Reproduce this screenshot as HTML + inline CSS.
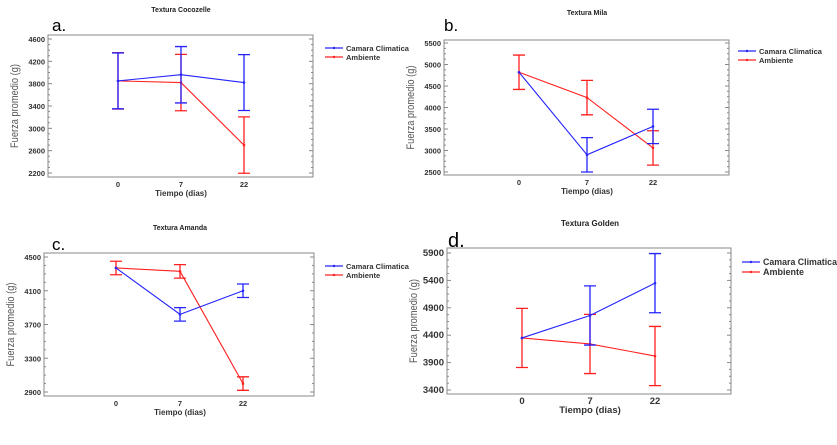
<!DOCTYPE html>
<html><head><meta charset="utf-8"><style>
html,body{margin:0;padding:0;background:#fff;width:837px;height:445px;overflow:hidden}
svg text{font-family:"Liberation Sans",sans-serif}
</style></head><body>
<svg id="chart" width="837" height="445" xmlns="http://www.w3.org/2000/svg"></svg>
<script>
const categories = ["0","7","22"];
const seriesNames = ["Camara Climatica","Ambiente"];
// Panel a - Cocozelle
const aBlue = [3850, 3960, 3820];
const aBlueErr = [500, 505, 500];
const aRed = [3850, 3820, 2700];
const aRedErr = [505, 505, 505];
const aTicks = [2200, 2600, 3000, 3400, 3800, 4200, 4600];
// Panel b - Mila
const bBlue = [4820, 2900, 3560];
const bBlueErr = [0, 400, 400];
const bRed = [4820, 4230, 3060];
const bRedErr = [400, 400, 400];
const bTicks = [2500, 3000, 3500, 4000, 4500, 5000, 5500];
// Panel c - Amanda
const cBlue = [4370, 3820, 4100];
const cBlueErr = [0, 80, 80];
const cRed = [4370, 4330, 3000];
const cRedErr = [80, 80, 80];
const cTicks = [2900, 3300, 3700, 4100, 4500];
// Panel d - Golden
const dBlue = [4350, 4760, 5350];
const dBlueErr = [0, 540, 540];
const dRed = [4350, 4240, 4020];
const dRedErr = [540, 540, 540];
const dTicks = [3400, 3900, 4400, 4900, 5400, 5900];

const NS = "http://www.w3.org/2000/svg";
const svg = document.getElementById('chart');
function mk(tag, attrs, parent, text){
  const e = document.createElementNS(NS, tag);
  for (const k in attrs) e.setAttribute(k, attrs[k]);
  if (text !== undefined) e.textContent = text;
  (parent || svg).appendChild(e);
  return e;
}
const panels = [
  {id:'a', title:'Textura Cocozelle', label:'a.', box:[48,35,313,177], t0:[4600,39], t1:[2200,173], xs:[118,181,244], blue:aBlue, be:aBlueErr, red:aRed, re:aRedErr, ticks:aTicks, tx:181, ty:12, lx:52, ly:31, lg:[325,48], big:false},
  {id:'b', title:'Textura Mila', label:'b.', box:[444,40,729,175], t0:[5500,43], t1:[2500,172], xs:[519,587,653], blue:bBlue, be:bBlueErr, red:bRed, re:bRedErr, ticks:bTicks, tx:587, ty:15, lx:444, ly:31, lg:[738,51], big:false},
  {id:'c', title:'Textura Amanda', label:'c.', box:[44,253,314,396], t0:[4500,257], t1:[2900,392], xs:[116,180,243], blue:cBlue, be:cBlueErr, red:cRed, re:cRedErr, ticks:cTicks, tx:180, ty:230, lx:52, ly:250, lg:[325,266], big:false},
  {id:'d', title:'Textura Golden', label:'d.', box:[447,248,731,394], t0:[5900,253], t1:[3400,390], xs:[522,590,655], blue:dBlue, be:dBlueErr, red:dRed, re:dRedErr, ticks:dTicks, tx:590, ty:226, lx:448, ly:247, lg:[742,262], big:true}
];
panels.forEach(p => {
  const g = mk('g', {}, svg);
  
  
  const [x0,y0,x1,y1] = p.box;
  const yS = v => p.t1[1] + (v - p.t1[0]) * (p.t0[1] - p.t1[1]) / (p.t0[0] - p.t1[0]);
  const fs = p.big ? 9.5 : 7.5;
  const t = mk('text', {x:p.tx, y:p.ty, 'font-size':p.big?8:7, 'font-weight':'bold', 'text-anchor':'middle', fill:'#222'}, g, p.title);
  
  
  const l = mk('text', {x:p.lx, y:p.ly, 'font-size':p.big?20:17, fill:'#000'}, g, p.label);
  
  
  const b = mk('rect', {x:x0, y:y0, width:x1-x0, height:y1-y0, fill:'none', stroke:'#888', 'stroke-width':1}, g);
  
  
  const step = (p.ticks[1]-p.ticks[0])/4;
  for (let v = p.ticks[0]; v <= p.ticks[p.ticks.length-1]+1e-6; v += step) {
    const y = yS(v);
    const major = Math.abs((v - p.ticks[0]) % (step*4)) < 1e-6;
    const len = major ? 4 : 2;
    mk('line', {x1:x0, x2:x0+len, y1:y, y2:y, stroke:'#888'}, g);
    mk('line', {x1:x1, x2:x1-len, y1:y, y2:y, stroke:'#888'}, g);
  }
  p.ticks.forEach(v => {
    const tl = mk('text', {x:x0-3, y:yS(v)+3, 'font-size':fs, 'font-weight':'bold', 'text-anchor':'end', fill:'#333'}, g, String(v));
    
    
  });
  categories.forEach((c,i) => {
    const tl = mk('text', {x:p.xs[i], y:y1+10, 'font-size':fs, 'font-weight':'bold', 'text-anchor':'middle', fill:'#333'}, g, c);
    
    
  });
  const xl = mk('text', {x:p.xs[1], y:y1+19, 'font-size':p.big?9.5:8, 'font-weight':'bold', 'text-anchor':'middle', fill:'#333'}, g, 'Tiempo (dias)');
  
  
  const cy = (y0+y1)/2, ax = x0-30;
  const yl = mk('text', {x:ax, y:cy, 'font-size':11, fill:'#555', 'text-anchor':'middle', textLength:84, lengthAdjust:'spacingAndGlyphs', transform:`rotate(-90 ${ax} ${cy})`}, g, 'Fuerza promedio  (g)');
  
  
  [[p.red, p.re, '#ff2020', 'ambiente'], [p.blue, p.be, '#2424ff', 'camara-climatica']].forEach(([vals, errs, col, nm]) => {
    const pts = vals.map((v,i) => p.xs[i] + ',' + yS(v)).join(' ');
    const pl = mk('polyline', {points:pts, fill:'none', stroke:col, 'stroke-width':1.1}, g);
    
    
    vals.forEach((v,i) => {
      const e = errs[i];
      if (e > 0) {
        const x = p.xs[i], yt = yS(v+e), yb = yS(v-e);
        const eb = mk('path', {d:`M${x},${yt}V${yb}M${x-6},${yt}H${x+6}M${x-6},${yb}H${x+6}`, stroke:col, 'stroke-width':1.3, fill:'none'}, g);
        
        
      }
      const pt = mk('circle', {cx:p.xs[i], cy:yS(v), r:1.3, fill:col}, g);
      
      
    });
  });
  const [lx, ly] = p.lg;
  [['#2424ff', seriesNames[0]], ['#ff2020', seriesNames[1]]].forEach(([col, name], i) => {
    const y = ly + i*(p.big?10:9);
    const lgG = mk('g', {}, g);
    
    
    mk('line', {x1:lx, x2:lx+18, y1:y, y2:y, stroke:col, 'stroke-width':1.2}, lgG);
    mk('circle', {cx:lx+9, cy:y, r:1.2, fill:col}, lgG);
    const attrs = {x:lx+21, y:y+3, 'font-size':p.big?9:7.5, 'font-weight':'bold', fill:'#333'};
    if (p.big && i===0) { attrs.textLength = 74; attrs.lengthAdjust = 'spacingAndGlyphs'; }
    mk('text', attrs, lgG, name);
  });
});
</script>
</body></html>
